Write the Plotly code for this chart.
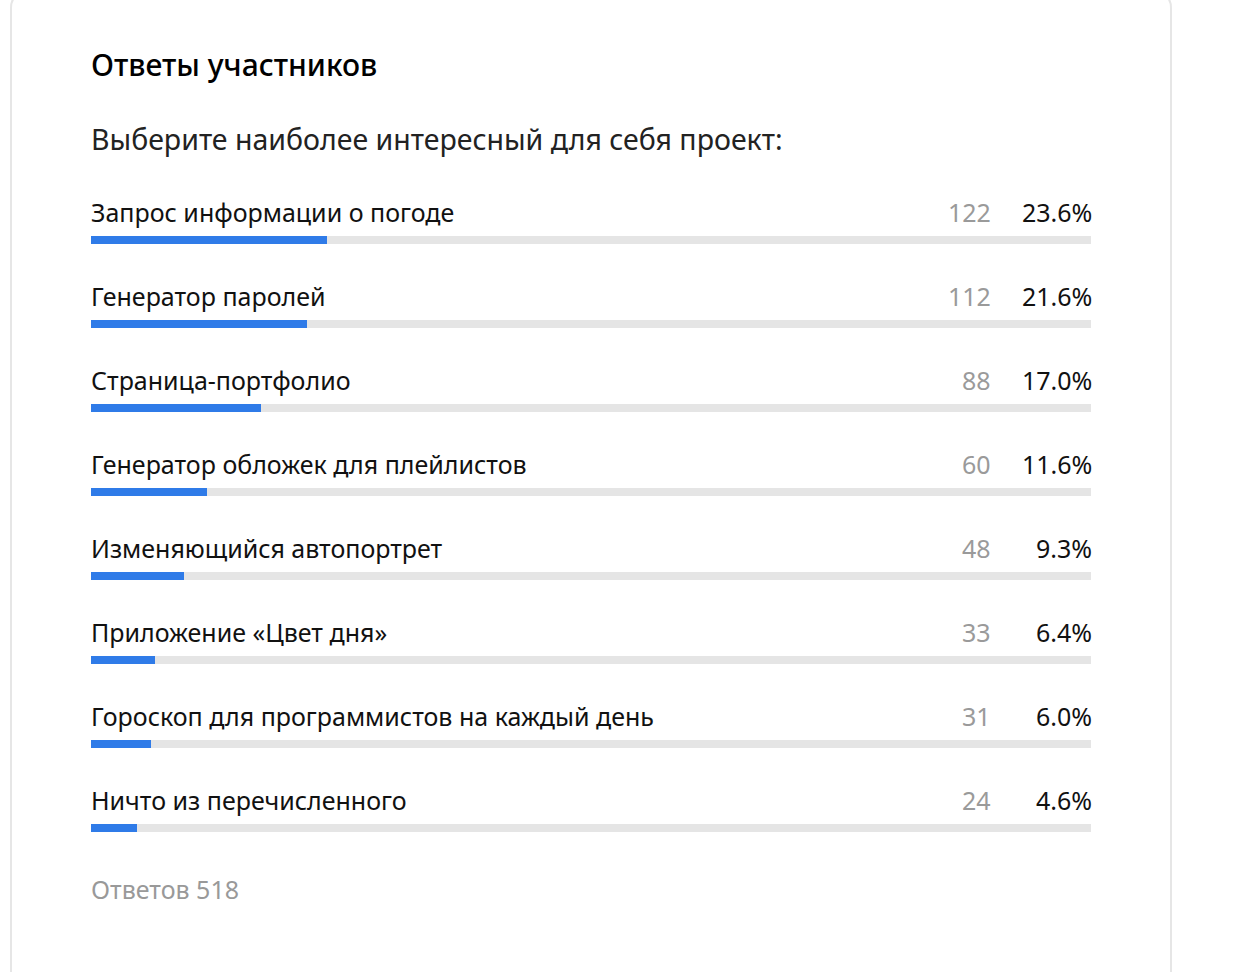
import plotly.graph_objects as go

# ---- data ----
title = "Ответы участников"
question = "Выберите наиболее интересный для себя проект:"
labels = [
    "Запрос информации о погоде",
    "Генератор паролей",
    "Страница-портфолио",
    "Генератор обложек для плейлистов",
    "Изменяющийся автопортрет",
    "Приложение «Цвет дня»",
    "Гороскоп для программистов на каждый день",
    "Ничто из перечисленного",
]
counts = [122, 112, 88, 60, 48, 33, 31, 24]
percents = [23.6, 21.6, 17.0, 11.6, 9.3, 6.4, 6.0, 4.6]
total_label = "Ответов 518"

# ---- layout constants (pixels) ----
W, H = 1260, 972
FONT = "Noto Sans"
ROW0 = 240      # centre of first bar track
STEP = 84       # row spacing
BAR_PX = 8
X0, X1 = 91, 1091

idx = list(range(len(labels)))
y_top = -ROW0 / STEP
y_bot = (H - ROW0) / STEP
bar_w = BAR_PX / STEP
lab_off = 28 / STEP

fig = go.Figure()
fig.add_trace(go.Bar(
    x=[100] * len(labels), y=idx, orientation="h", width=bar_w,
    marker=dict(color="#e5e5e5", line=dict(width=0)), hoverinfo="skip",
))
fig.add_trace(go.Bar(
    x=percents, y=idx, orientation="h", width=bar_w,
    marker=dict(color="#2f7be8", line=dict(width=0)),
    customdata=labels, hovertemplate="%{customdata}: %{x}%<extra></extra>",
))

anns = []
count_x = (990 - X0) / (X1 - X0) * 100
for i, (lab, c, p) in enumerate(zip(labels, counts, percents)):
    yy = i - lab_off
    anns.append(dict(x=0, y=yy, xref="x", yref="y", text=lab, showarrow=False,
                     xanchor="left", yanchor="middle", xshift=-2,
                     font=dict(family=FONT, size=25, color="#111")))
    anns.append(dict(x=count_x, y=yy, xref="x", yref="y", text=str(c), showarrow=False,
                     xanchor="right", yanchor="middle", xshift=3,
                     font=dict(family=FONT, size=25, color="#9a9a9a")))
    anns.append(dict(x=100, y=yy, xref="x", yref="y", text=f"{p:.1f}%", showarrow=False,
                     xanchor="right", yanchor="middle", xshift=3,
                     font=dict(family=FONT, size=25, color="#111")))

anns.append(dict(x=X0 / W, y=1 - 64 / H, xref="paper", yref="paper", text=title,
                 showarrow=False, xanchor="left", yanchor="middle", xshift=-2,
                 font=dict(family=FONT, size=30, color="#000", weight=500)))
anns.append(dict(x=X0 / W, y=1 - 139 / H, xref="paper", yref="paper", text=question,
                 showarrow=False, xanchor="left", yanchor="middle", xshift=-2,
                 font=dict(family=FONT, size=28.5, color="#222")))
anns.append(dict(x=X0 / W, y=1 - 889 / H, xref="paper", yref="paper", text=total_label,
                 showarrow=False, xanchor="left", yanchor="middle", xshift=-2,
                 font=dict(family=FONT, size=25, color="#999")))

# card border with rounded corners
L, R, T, B, r = 11, 1171, -6, 990, 14
def px(x):
    return x / W
def py(y):
    return 1 - y / H
path = (f"M {px(L)},{py(B)} L {px(L)},{py(T + r)} "
        f"Q {px(L)},{py(T)} {px(L + r)},{py(T)} "
        f"L {px(R - r)},{py(T)} Q {px(R)},{py(T)} {px(R)},{py(T + r)} "
        f"L {px(R)},{py(B)}")

fig.update_layout(
    width=W, height=H, margin=dict(l=0, r=0, t=0, b=0),
    paper_bgcolor="white", plot_bgcolor="white",
    barmode="overlay", showlegend=False, bargap=0,
    xaxis=dict(domain=[X0 / W, X1 / W], range=[0, 100], visible=False, fixedrange=True),
    yaxis=dict(domain=[0, 1], range=[y_bot, y_top], visible=False, fixedrange=True),
    annotations=anns,
    shapes=[dict(type="path", xref="paper", yref="paper", path=path,
                 line=dict(color="#e6e6e6", width=2), layer="below")],
)

fig.write_html("out.html")
